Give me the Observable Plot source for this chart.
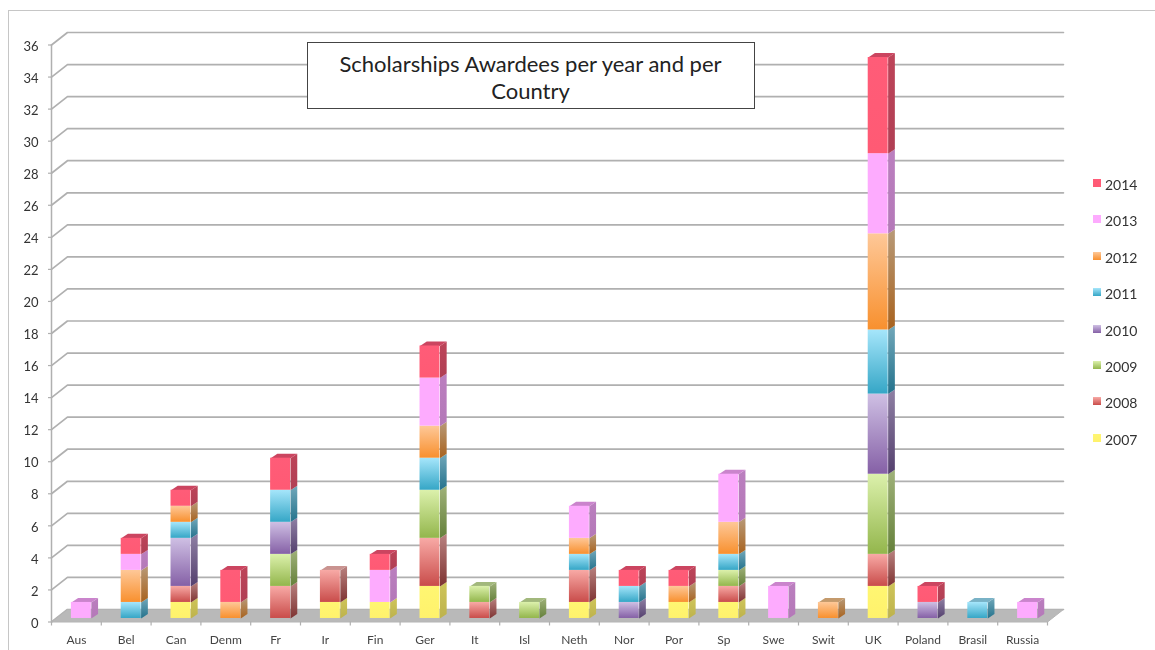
<!DOCTYPE html>
<html>
<head>
<meta charset="utf-8">
<script src="https://cdn.jsdelivr.net/npm/d3@7"></script>
<script src="https://cdn.jsdelivr.net/npm/@observablehq/plot@0.6"></script>
<style>
  html, body { margin: 0; padding: 0; background: #fff; }
  #page { position: relative; width: 1155px; height: 650px; overflow: hidden; filter: blur(0.45px); font-family: Lato, "Open Sans", sans-serif; }
  #frame { position: absolute; left: 8px; top: 10px; right: -4px; bottom: -4px; border-left: 1.5px solid #c6c6c6; border-top: 1.5px solid #c6c6c6; }
  #chart { position: absolute; left: 0; top: 0; }
  #title { position: absolute; left: 306.5px; top: 42px; width: 446px; border: 1.2px solid #444; background: #fff; color: #222; font-size: 22px; line-height: 27px; text-align: center; padding-top: 7px; box-sizing: content-box; height: 58px; }
  #legend { position: absolute; left: 1093px; top: 176px; font-size: 14px; color: #333; }
  .entry { height: 36.4px; display: flex; align-items: flex-start; line-height: 18px; }
  .swatch { width: 8px; height: 8px; margin: 3px 4px 0 0; }
</style>
</head>
<body>
<div id="page">
  <div id="frame"></div>
  <div id="chart"></div>
  <div id="title">Scholarships Awardees per year and per<br>Country</div>
  <div id="legend"></div>
</div>
<script>
const countries = ["Aus","Bel","Can","Denm","Fr","Ir","Fin","Ger","It","Isl","Neth","Nor","Por","Sp","Swe","Swit","UK","Poland","Brasil","Russia"];
const years = [2007,2008,2009,2010,2011,2012,2013,2014];
const y2007 = [0,0,1,0,0,1,1,2,0,0,1,0,1,1,0,0,2,0,0,0];
const y2008 = [0,0,1,0,2,2,0,3,1,0,2,0,0,1,0,0,2,0,0,0];
const y2009 = [0,0,0,0,2,0,0,3,1,1,0,0,0,1,0,0,5,0,0,0];
const y2010 = [0,0,3,0,2,0,0,0,0,0,0,1,0,0,0,0,5,1,0,0];
const y2011 = [0,1,1,0,2,0,0,2,0,0,1,1,0,1,0,0,4,0,1,0];
const y2012 = [0,2,1,1,0,0,0,2,0,0,1,0,1,2,0,1,6,0,0,0];
const y2013 = [1,1,0,0,0,0,2,3,0,0,2,0,0,3,2,0,5,0,0,1];
const y2014 = [0,1,1,2,2,0,1,2,0,0,0,1,1,0,0,0,6,1,0,0];
const series = [y2007,y2008,y2009,y2010,y2011,y2012,y2013,y2014];
const yTicks = d3.range(0,37,2);

// front top, front bottom, side top, side bottom, cap
const palette = {
  2007:["#fff672","#fff26c","#cfc55a","#bdb24c","#d6cc60"],
  2008:["#f8aaa6","#c94c4a","#b98280","#7e3332","#c99390"],
  2009:["#dcf1ac","#93b64c","#a0b27a","#64803a","#a2b87c"],
  2010:["#cfc0e4","#8560a6","#8f80a4","#54406e","#a796bd"],
  2011:["#a6e6fb","#35a6c6","#72a8ba","#24728c","#79b2c6"],
  2012:["#fec898","#f8902e","#b89a78","#a8621e","#c49a6c"],
  2013:["#fdabfe","#fdabfe","#bb7fbf","#b478b8","#ca84cc"],
  2014:["#ff5c78","#ff5a74","#bd4459","#b03f54","#cb4560"]
};

// Geometry of the pseudo-3D box, in data units of the two scales
const barStart = 0.4, barWidth = 0.4;
const barDepthX = 0.135, barDepthY = 0.28, barLift = 0.22;
const wallDepthX = 0.32, wallDepthY = 0.78;

const segs = [];
countries.forEach((c, i) => {
  let base = 0;
  const last = d3.max(years.map((_, k) => series[k][i] > 0 ? k : -1));
  years.forEach((yr, k) => {
    const v = series[k][i];
    if (v > 0) {
      segs.push({id: c + yr, i, yr, x1: i + barStart, x2: i + barStart + barWidth,
                 y1: base + barLift, y2: base + v + barLift, top: k === last});
      base += v;
    }
  });
});

const sidePoly = s => [
  {id:s.id,x:s.x2,y:s.y1},{id:s.id,x:s.x2+barDepthX,y:s.y1+barDepthY},
  {id:s.id,x:s.x2+barDepthX,y:s.y2+barDepthY},{id:s.id,x:s.x2,y:s.y2},{id:s.id,x:s.x2,y:s.y1}];
const capPoly = s => [
  {id:s.id,x:s.x1,y:s.y2},{id:s.id,x:s.x2,y:s.y2},
  {id:s.id,x:s.x2+barDepthX,y:s.y2+barDepthY},{id:s.id,x:s.x1+barDepthX,y:s.y2+barDepthY},{id:s.id,x:s.x1,y:s.y2}];

const defs = () => {
  const ns = "http://www.w3.org/2000/svg";
  const d = document.createElementNS(ns, "defs");
  const grad = (id, a, b) => {
    const g = document.createElementNS(ns, "linearGradient");
    g.setAttribute("id", id); g.setAttribute("x1", 0); g.setAttribute("x2", 0); g.setAttribute("y1", 0); g.setAttribute("y2", 1);
    [[0,a],[1,b]].forEach(([o,c]) => {
      const s = document.createElementNS(ns, "stop");
      s.setAttribute("offset", o); s.setAttribute("stop-color", c); g.appendChild(s);
    });
    d.appendChild(g);
  };
  years.forEach(y => {
    const p = palette[y];
    grad("front" + y, p[0], p[1]);
    grad("side" + y, p[2], p[3]);
  });
  return d;
};

const yearMarks = [];
years.forEach(yr => {
  const ss = segs.filter(s => s.yr === yr);
  yearMarks.push(Plot.line(ss.flatMap(sidePoly), {x:"x", y:"y", z:"id", fill:`url(#side${yr})`, stroke:"none", curve:"linear"}));
});
years.forEach(yr => {
  const ss = segs.filter(s => s.yr === yr && s.top);
  yearMarks.push(Plot.line(ss.flatMap(capPoly), {x:"x", y:"y", z:"id", fill:palette[yr][4], stroke:"none", curve:"linear"}));
});
years.forEach(yr => {
  const ss = segs.filter(s => s.yr === yr);
  yearMarks.push(Plot.rect(ss, {x1:"x1", x2:"x2", y1:"y1", y2:"y2", fill:`url(#front${yr})`, inset:0}));
});

const lineColor = "#b0b0b0";
const maxX = countries.length;
const wallRows = yTicks.flatMap(t => [
  {t, x:0, y:t},
  {t, x:wallDepthX, y:t + wallDepthY},
  {t, x:maxX + wallDepthX, y:t + wallDepthY}
]);
const floorRows = [
  {x:0,y:0},{x:maxX,y:0},{x:maxX+wallDepthX,y:wallDepthY},{x:wallDepthX,y:wallDepthY},{x:0,y:0}
];

const plot = Plot.plot({
  width: 1155,
  height: 650,
  marginLeft: 51,
  marginRight: 108,
  marginTop: 44.5,
  marginBottom: 28.5,
  x: {type:"linear", domain:[0, maxX], axis:null},
  y: {type:"linear", domain:[0, 36], axis:null},
  style: {background:"transparent", fontFamily:"Lato, 'Open Sans', sans-serif", overflow:"visible"},
  marks: [
    defs,
    Plot.line(wallRows, {x:"x", y:"y", z:"t", stroke:lineColor, strokeWidth:1.7, curve:"linear"}),
    Plot.line(floorRows, {x:"x", y:"y", fill:"#b9b9b9", stroke:"#b4b4b4", strokeWidth:1, curve:"linear"}),
    Plot.ruleX([0], {y1:0, y2:36, stroke:lineColor, strokeWidth:1.5}),
    Plot.axisY({ticks:yTicks, tickSize:3, tickFormat:()=>"", stroke:lineColor, strokeWidth:1.2}),
    Plot.axisX({ticks:d3.range(0, maxX + 1), tickSize:4, tickFormat:()=>"", stroke:lineColor, strokeWidth:1.2, tickPadding:0}),
    Plot.text(yTicks, {x:()=>0, y:d=>d, text:d=>String(d), dx:-13, dy:1.5, textAnchor:"end", fontSize:13, fill:"#333"}),
    Plot.text(countries, {x:(d,i)=>i+0.5, y:()=>0, text:d=>d, dy:18.5, fontSize:12, fill:"#444"}),
    ...yearMarks
  ]
});
document.getElementById("chart").appendChild(plot);

const legend = d3.select("#legend");
years.slice().reverse().forEach(y => {
  const e = legend.append("div").attr("class","entry");
  e.append("div").attr("class","swatch").style("background",`linear-gradient(${palette[y][0]},${palette[y][1]})`);
  e.append("div").text(y);
});
</script>
</body>
</html>
